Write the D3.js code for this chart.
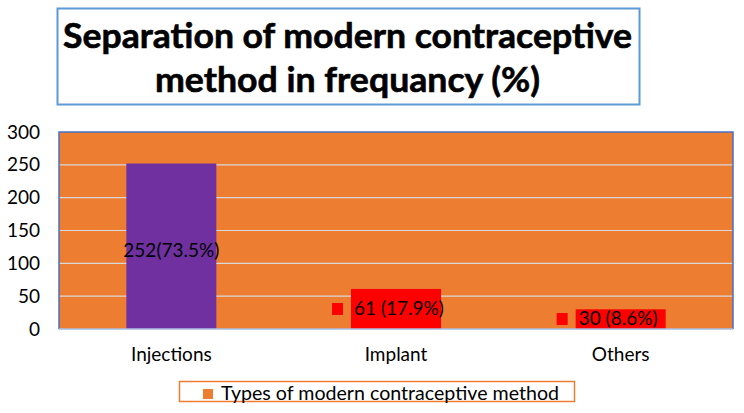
<!DOCTYPE html>
<html><head><meta charset="utf-8">
<script src="https://cdn.jsdelivr.net/npm/d3@7"></script>
<style>body{margin:0;background:#fff}svg{display:block}text{font-family:Lato,"Open Sans",sans-serif}</style>
</head><body>
<svg id="c" width="744" height="413"></svg>
<script>
const categories = ["Injections", "Implant", "Others"];
const values = [252, 61, 30];
const valueLabels = ["252(73.5%)", "61 (17.9%)", "30 (8.6%)"];
const barColors = ["#7030A0", "#FF0000", "#FF0000"];
const yTicks = [0, 50, 100, 150, 200, 250, 300];
const titleLines = ["Separation of modern contraceptive", "method in frequancy (%)"];
const legendLabel = "Types of modern contraceptive method";

const svg = d3.select("#c");
const mLeft = 59, mRight = 733, mTop = 132, mBottom = 329;

// title box
svg.append("rect").attr("x", 57.5).attr("y", 8.5).attr("width", 582).attr("height", 96)
  .attr("fill", "#fff").attr("stroke", "#5B9BD5").attr("stroke-width", 2);
const tl = [[48, 569], [92, 385]];
titleLines.forEach((t, i) => {
  svg.append("text").attr("x", 347.5).attr("y", tl[i][0]).attr("text-anchor", "middle")
    .attr("font-size", 35).attr("font-weight", "bold").attr("fill", "#000")
    .attr("stroke", "#000").attr("stroke-width", 0.6)
    .attr("textLength", tl[i][1]).attr("lengthAdjust", "spacingAndGlyphs").text(t);
});

const x = d3.scaleBand().domain(categories).range([mLeft, mRight]).paddingInner(0.6).paddingOuter(0.3);
const y = d3.scaleLinear().domain([0, 300]).range([mBottom, mTop]);

// plot background
svg.append("rect").attr("x", mLeft).attr("y", mTop).attr("width", mRight - mLeft).attr("height", mBottom - mTop)
  .attr("fill", "#ED7D31");

// gridlines
svg.append("g").selectAll("line").data(yTicks.filter(d => d > 0 && d < 300)).join("line")
  .attr("x1", mLeft).attr("x2", mRight).attr("y1", d => y(d)).attr("y2", d => y(d))
  .attr("stroke", "#D9D9D9").attr("stroke-width", 1.2);

// bars
svg.append("g").selectAll("rect").data(values).join("rect")
  .attr("x", (d, i) => x(categories[i]) + x.bandwidth() / 2 - 45)
  .attr("width", 90)
  .attr("y", d => y(d)).attr("height", d => y(0) - y(d))
  .attr("fill", (d, i) => barColors[i]);

// border
svg.append("path").attr("d", `M${mLeft},${mBottom}V${mTop}H${mRight}V${mBottom}`)
  .attr("fill", "none").attr("stroke", "#4472C4").attr("stroke-width", 1.5);
svg.append("line").attr("x1", mLeft).attr("x2", mRight).attr("y1", mBottom).attr("y2", mBottom)
  .attr("stroke", "#A9BEE0").attr("stroke-width", 1.5);

// y axis
const ya = svg.append("g").attr("transform", `translate(${mLeft},0)`)
  .call(d3.axisLeft(y).tickValues(yTicks).tickSize(0).tickPadding(19));
ya.select(".domain").remove();
ya.selectAll("text").attr("font-size", 19).attr("fill", "#000").style("font-family", "Lato,sans-serif");

// x axis
const xa = svg.append("g").attr("transform", `translate(0,${mBottom})`)
  .call(d3.axisBottom(x).tickSize(0).tickPadding(19));
xa.select(".domain").remove();
xa.selectAll("text").attr("font-size", 19).attr("fill", "#000").style("font-family", "Lato,sans-serif");

// data labels
const cx = i => x(categories[i]) + x.bandwidth() / 2;
svg.append("text").attr("x", cx(0)).attr("y", y(values[0] * 0.47) + 6).attr("text-anchor", "middle")
  .attr("font-size", 19).attr("fill", "#000").text(valueLabels[0]);
[1, 2].forEach(i => {
  const ly = i === 1 ? 309 : 319;
  svg.append("rect").attr("x", cx(i) - 64).attr("y", ly - 6).attr("width", 11).attr("height", 12).attr("fill", "#FF0000");
  svg.append("text").attr("x", cx(i) - 42).attr("y", ly + 6).attr("font-size", 19).attr("fill", "#000").text(valueLabels[i]);
});

// legend
svg.append("rect").attr("x", 179.5).attr("y", 381.5).attr("width", 395).attr("height", 20)
  .attr("fill", "#fff").attr("stroke", "#ED7D31").attr("stroke-width", 1.5);
svg.append("rect").attr("x", 203).attr("y", 389).attr("width", 10).attr("height", 10).attr("fill", "#ED7D31");
svg.append("text").attr("x", 221).attr("y", 400).attr("font-size", 19).attr("fill", "#000")
  .attr("textLength", 338).attr("lengthAdjust", "spacingAndGlyphs").text(legendLabel);
</script>
</body></html>
